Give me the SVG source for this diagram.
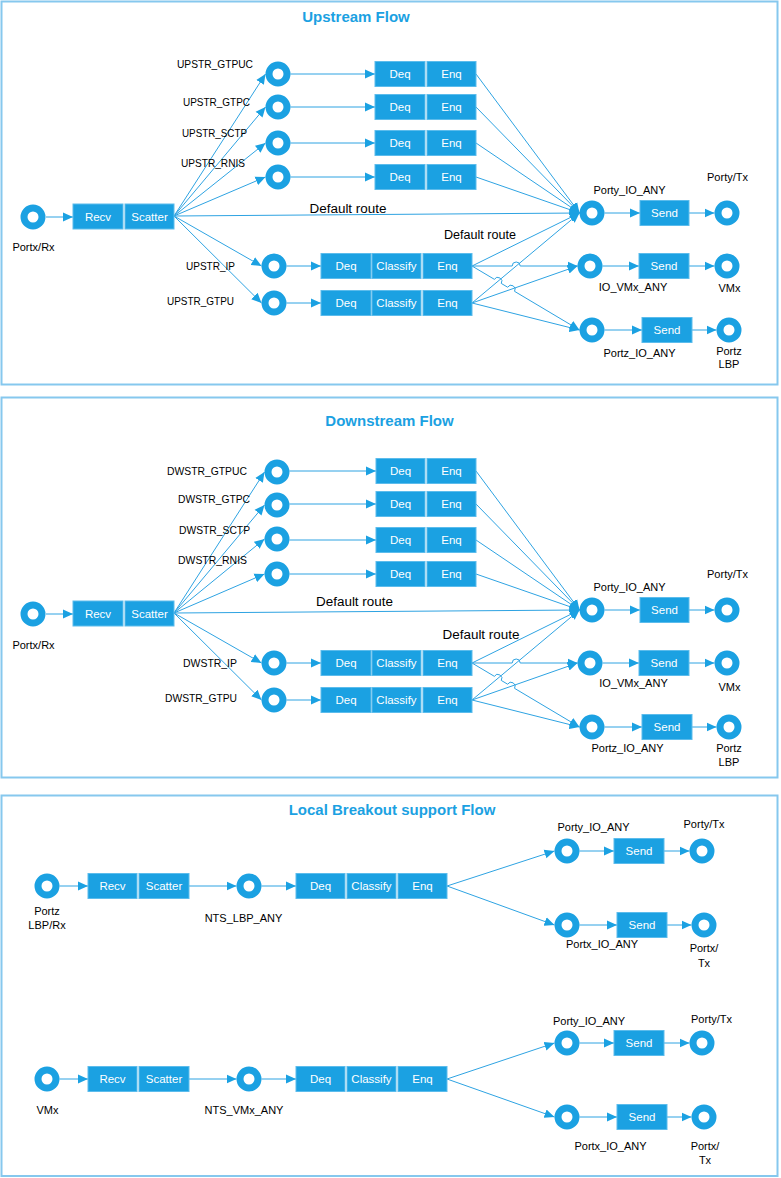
<svg xmlns="http://www.w3.org/2000/svg" width="781" height="1178" viewBox="0 0 781 1178">
<defs>
<style>
.panel{fill:#fff;stroke:#86c8ee;stroke-width:2}
.title{font-family:"Liberation Sans",Arial,sans-serif;font-size:15px;font-weight:bold;fill:#1ba1e2;text-anchor:middle}
.lbl{font-family:"Liberation Sans",Arial,sans-serif;font-size:11px;fill:#000;text-anchor:middle}
.dr{font-family:"Liberation Sans",Arial,sans-serif;font-size:12.5px;fill:#000;text-anchor:middle}
.bt{font-family:"Liberation Sans",Arial,sans-serif;font-size:11.5px;fill:#fff;text-anchor:middle}
.box{fill:#1ba1e2;stroke:#5cbcec;stroke-width:1}
.port{fill:none;stroke:#1ba1e2;stroke-width:7}
.cn{fill:none;stroke:#2ea3e2;stroke-width:1}
.ar{marker-end:url(#ah)}
</style>
<marker id="ah" markerWidth="10" markerHeight="10" refX="10" refY="5" orient="auto" markerUnits="userSpaceOnUse">
<path d="M0,0.5 L10,5 L0,9.5 z" fill="#1ba1e2"/>
</marker>
</defs>
<rect width="781" height="1178" fill="#fff"/>

<!-- Panels -->
<g id="panel-upstream"><rect class="panel" x="1.5" y="1.5" width="776" height="383"/><text class="title" x="356" y="22">Upstream Flow</text></g>
<g id="panel-downstream"><rect class="panel" x="1.5" y="397.5" width="776" height="380"/><text class="title" x="389.5" y="426">Downstream Flow</text></g>
<g id="panel-lbo"><rect class="panel" x="1.5" y="795.5" width="776" height="380.5"/><text class="title" x="392" y="815">Local Breakout support Flow</text></g>

<!-- ================= CONNECTORS ================= -->
<g id="connectors">
<!-- Upstream -->
<path class="cn ar" d="M46,217 L73,217"/>
<path class="cn ar" d="M174,216 L265.5,74"/>
<path class="cn ar" d="M174,216 L265.5,107"/>
<path class="cn ar" d="M174,216 L265.5,143"/>
<path class="cn ar" d="M174,216 L265.5,177"/>
<path class="cn ar" d="M174,216 L261.5,266"/>
<path class="cn ar" d="M174,216 L261.5,303"/>
<path class="cn ar" d="M290.5,74 L375,74"/>
<path class="cn ar" d="M290.5,107 L375,107"/>
<path class="cn ar" d="M290.5,143 L375,143"/>
<path class="cn ar" d="M290.5,177 L375,177"/>
<path class="cn ar" d="M286.5,266 L321,266"/>
<path class="cn ar" d="M286.5,303 L321,303"/>
<path class="cn ar" d="M476,74 L579.5,213"/>
<path class="cn ar" d="M476,107 L579.5,213"/>
<path class="cn ar" d="M476,143 L579.5,213"/>
<path class="cn ar" d="M476,177 L579.5,213"/>
<path class="cn ar" d="M174,216 L579.5,213"/>
<path class="cn ar" d="M472,266 L579.5,213"/>
<path class="cn ar" d="M472,303 L579.5,213"/>
<path class="cn ar" d="M472,303 L577.5,266"/>
<path class="cn ar" d="M472,303 L579.5,330"/>
<path class="cn ar" d="M472,266 L512.19,266 A4,4 0 0 1 520.19,266 L577.5,266"/>
<path class="cn ar" d="M472,266 L494.39,279.33 A4,4 0 0 1 501.27,283.43 L507.67,287.23 A4,4 0 0 1 514.55,291.33 L579.5,330"/>
<path class="cn ar" d="M604.5,213 L640,213"/>
<path class="cn ar" d="M689,213 L714.5,213"/>
<path class="cn ar" d="M602.5,266 L639,266"/>
<path class="cn ar" d="M689,266 L714.5,266"/>
<path class="cn ar" d="M604.5,330 L642,330"/>
<path class="cn ar" d="M692,330 L716.5,330"/>

<!-- Downstream -->
<path class="cn ar" d="M46,614 L73,614"/>
<path class="cn ar" d="M174,613 L264.5,472"/>
<path class="cn ar" d="M174,613 L264.5,505"/>
<path class="cn ar" d="M174,613 L264.5,539"/>
<path class="cn ar" d="M174,613 L264.5,574"/>
<path class="cn ar" d="M174,613 L261.5,663"/>
<path class="cn ar" d="M174,613 L261.5,700"/>
<path class="cn ar" d="M289.5,471 L376,471"/>
<path class="cn ar" d="M289.5,504 L376,504"/>
<path class="cn ar" d="M289.5,540 L376,540"/>
<path class="cn ar" d="M289.5,574 L376,574"/>
<path class="cn ar" d="M286.5,663 L321,663"/>
<path class="cn ar" d="M286.5,700 L321,700"/>
<path class="cn ar" d="M476,471 L579.5,610"/>
<path class="cn ar" d="M476,504 L579.5,610"/>
<path class="cn ar" d="M476,540 L579.5,610"/>
<path class="cn ar" d="M476,574 L579.5,610"/>
<path class="cn ar" d="M174,613 L579.5,610"/>
<path class="cn ar" d="M472,663 L579.5,610"/>
<path class="cn ar" d="M472,700 L579.5,610"/>
<path class="cn ar" d="M472,700 L577.5,663"/>
<path class="cn ar" d="M472,700 L579.5,727"/>
<path class="cn ar" d="M472,663 L512.19,663 A4,4 0 0 1 520.19,663 L577.5,663"/>
<path class="cn ar" d="M472,663 L494.39,676.33 A4,4 0 0 1 501.27,680.43 L507.67,684.23 A4,4 0 0 1 514.55,688.33 L579.5,727"/>
<path class="cn ar" d="M604.5,610 L640,610"/>
<path class="cn ar" d="M689,610 L714.5,610"/>
<path class="cn ar" d="M602.5,663 L639,663"/>
<path class="cn ar" d="M689,663 L714.5,663"/>
<path class="cn ar" d="M604.5,727 L642,727"/>
<path class="cn ar" d="M692,727 L716.5,727"/>

<!-- Local breakout row 1 -->
<path class="cn ar" d="M59.5,886 L88,886"/>
<path class="cn ar" d="M189,886 L236.5,886"/>
<path class="cn ar" d="M261.5,886 L296,886"/>
<path class="cn ar" d="M447,886 L554.5,851"/>
<path class="cn ar" d="M447,886 L554.5,925"/>
<path class="cn ar" d="M579.5,851 L614,851"/>
<path class="cn ar" d="M664,851 L689.5,851"/>
<path class="cn ar" d="M579.5,925 L617,925"/>
<path class="cn ar" d="M667,925 L691.5,925"/>
<!-- Local breakout row 2 -->
<path class="cn ar" d="M59.5,1079 L88,1079"/>
<path class="cn ar" d="M189,1079 L236.5,1079"/>
<path class="cn ar" d="M261.5,1079 L296,1079"/>
<path class="cn ar" d="M447,1079 L554.5,1043"/>
<path class="cn ar" d="M447,1079 L554.5,1117"/>
<path class="cn ar" d="M579.5,1043 L614,1043"/>
<path class="cn ar" d="M664,1043 L689.5,1043"/>
<path class="cn ar" d="M579.5,1117 L617,1117"/>
<path class="cn ar" d="M667,1117 L691.5,1117"/>
</g>

<!-- connector labels -->
<g id="edge-labels">
<text class="dr" x="348" y="213" textLength="77" lengthAdjust="spacingAndGlyphs">Default route</text>
<text class="dr" x="480" y="239" textLength="72" lengthAdjust="spacingAndGlyphs">Default route</text>
<text class="dr" x="354.5" y="606" textLength="77" lengthAdjust="spacingAndGlyphs">Default route</text>
<text class="dr" x="481" y="639" textLength="77" lengthAdjust="spacingAndGlyphs">Default route</text>
</g>

<!-- ================= UPSTREAM NODES ================= -->
<g id="up-portx-rx"><circle class="port" cx="33" cy="217" r="9"/><text class="lbl" x="33.5" y="251">Portx/Rx</text></g>
<g id="up-recv-scatter">
<rect class="box" x="73" y="204" width="50" height="25"/><text class="bt" x="98" y="220.5">Recv</text>
<rect class="box" x="125" y="204" width="49" height="25"/><text class="bt" x="149.5" y="220.5">Scatter</text>
</g>
<g id="up-gtpuc"><circle class="port" cx="278" cy="74" r="9"/><text class="lbl" x="215" y="68" textLength="76" lengthAdjust="spacingAndGlyphs">UPSTR_GTPUC</text></g>
<g id="up-gtpc"><circle class="port" cx="278" cy="107" r="9"/><text class="lbl" x="216.5" y="106" textLength="67" lengthAdjust="spacingAndGlyphs">UPSTR_GTPC</text></g>
<g id="up-sctp"><circle class="port" cx="278" cy="143" r="9"/><text class="lbl" x="214.5" y="137" textLength="65" lengthAdjust="spacingAndGlyphs">UPSTR_SCTP</text></g>
<g id="up-rnis"><circle class="port" cx="278" cy="177" r="9"/><text class="lbl" x="213" y="167" textLength="64" lengthAdjust="spacingAndGlyphs">UPSTR_RNIS</text></g>
<g id="up-ip"><circle class="port" cx="274" cy="266" r="9"/><text class="lbl" x="210.5" y="270" textLength="49" lengthAdjust="spacingAndGlyphs">UPSTR_IP</text></g>
<g id="up-gtpu"><circle class="port" cx="274" cy="303" r="9"/><text class="lbl" x="200.5" y="305" textLength="67" lengthAdjust="spacingAndGlyphs">UPSTR_GTPU</text></g>
<g id="up-de1"><rect class="box" x="375" y="61.5" width="50" height="25"/><text class="bt" x="400" y="78">Deq</text><rect class="box" x="427" y="61.5" width="49" height="25"/><text class="bt" x="451.5" y="78">Enq</text></g>
<g id="up-de2"><rect class="box" x="375" y="94.5" width="50" height="25"/><text class="bt" x="400" y="111">Deq</text><rect class="box" x="427" y="94.5" width="49" height="25"/><text class="bt" x="451.5" y="111">Enq</text></g>
<g id="up-de3"><rect class="box" x="375" y="130.5" width="50" height="25"/><text class="bt" x="400" y="147">Deq</text><rect class="box" x="427" y="130.5" width="49" height="25"/><text class="bt" x="451.5" y="147">Enq</text></g>
<g id="up-de4"><rect class="box" x="375" y="164.5" width="50" height="25"/><text class="bt" x="400" y="181">Deq</text><rect class="box" x="427" y="164.5" width="49" height="25"/><text class="bt" x="451.5" y="181">Enq</text></g>
<g id="up-dce1"><rect class="box" x="321" y="253.5" width="50" height="25"/><text class="bt" x="346" y="270">Deq</text><rect class="box" x="372" y="253.5" width="49" height="25"/><text class="bt" x="396.5" y="270">Classify</text><rect class="box" x="423" y="253.5" width="49" height="25"/><text class="bt" x="447.5" y="270">Enq</text></g>
<g id="up-dce2"><rect class="box" x="321" y="290.5" width="50" height="25"/><text class="bt" x="346" y="307">Deq</text><rect class="box" x="372" y="290.5" width="49" height="25"/><text class="bt" x="396.5" y="307">Classify</text><rect class="box" x="423" y="290.5" width="49" height="25"/><text class="bt" x="447.5" y="307">Enq</text></g>
<g id="up-porty-io"><circle class="port" cx="592" cy="213" r="9"/><text class="lbl" x="629.5" y="194">Porty_IO_ANY</text></g>
<g id="up-send1"><rect class="box" x="640" y="200.5" width="49" height="25"/><text class="bt" x="664.5" y="217">Send</text></g>
<g id="up-porty-tx"><circle class="port" cx="727" cy="213" r="9"/><text class="lbl" x="727.5" y="181">Porty/Tx</text></g>
<g id="up-io-vmx"><circle class="port" cx="590" cy="266" r="9"/><text class="lbl" x="633" y="291">IO_VMx_ANY</text></g>
<g id="up-send2"><rect class="box" x="639" y="253.5" width="50" height="25"/><text class="bt" x="664" y="270">Send</text></g>
<g id="up-vmx"><circle class="port" cx="727" cy="266" r="9"/><text class="lbl" x="729.5" y="292">VMx</text></g>
<g id="up-portz-io"><circle class="port" cx="592" cy="330" r="9"/><text class="lbl" x="639.5" y="357">Portz_IO_ANY</text></g>
<g id="up-send3"><rect class="box" x="642" y="317.5" width="50" height="25"/><text class="bt" x="667" y="334">Send</text></g>
<g id="up-portz-lbp"><circle class="port" cx="729" cy="330" r="9"/><text class="lbl" x="729" y="355">Portz</text><text class="lbl" x="729" y="368">LBP</text></g>

<!-- ================= DOWNSTREAM NODES ================= -->
<g id="dn-portx-rx"><circle class="port" cx="33" cy="614" r="9"/><text class="lbl" x="33.5" y="649">Portx/Rx</text></g>
<g id="dn-recv-scatter">
<rect class="box" x="73" y="601" width="50" height="25"/><text class="bt" x="98" y="617.5">Recv</text>
<rect class="box" x="125" y="601" width="49" height="25"/><text class="bt" x="149.5" y="617.5">Scatter</text>
</g>
<g id="dn-gtpuc"><circle class="port" cx="277" cy="472" r="9"/><text class="lbl" x="207" y="475" textLength="80" lengthAdjust="spacingAndGlyphs">DWSTR_GTPUC</text></g>
<g id="dn-gtpc"><circle class="port" cx="277" cy="505" r="9"/><text class="lbl" x="214" y="503" textLength="72" lengthAdjust="spacingAndGlyphs">DWSTR_GTPC</text></g>
<g id="dn-sctp"><circle class="port" cx="277" cy="539" r="9"/><text class="lbl" x="214.5" y="534" textLength="71" lengthAdjust="spacingAndGlyphs">DWSTR_SCTP</text></g>
<g id="dn-rnis"><circle class="port" cx="277" cy="574" r="9"/><text class="lbl" x="212.5" y="564" textLength="69" lengthAdjust="spacingAndGlyphs">DWSTR_RNIS</text></g>
<g id="dn-ip"><circle class="port" cx="274" cy="663" r="9"/><text class="lbl" x="210" y="667" textLength="54" lengthAdjust="spacingAndGlyphs">DWSTR_IP</text></g>
<g id="dn-gtpu"><circle class="port" cx="274" cy="700" r="9"/><text class="lbl" x="201" y="702" textLength="72" lengthAdjust="spacingAndGlyphs">DWSTR_GTPU</text></g>
<g id="dn-de1"><rect class="box" x="376" y="458.5" width="49" height="25"/><text class="bt" x="400.5" y="475">Deq</text><rect class="box" x="427" y="458.5" width="49" height="25"/><text class="bt" x="451.5" y="475">Enq</text></g>
<g id="dn-de2"><rect class="box" x="376" y="491.5" width="49" height="25"/><text class="bt" x="400.5" y="508">Deq</text><rect class="box" x="427" y="491.5" width="49" height="25"/><text class="bt" x="451.5" y="508">Enq</text></g>
<g id="dn-de3"><rect class="box" x="376" y="527.5" width="49" height="25"/><text class="bt" x="400.5" y="544">Deq</text><rect class="box" x="427" y="527.5" width="49" height="25"/><text class="bt" x="451.5" y="544">Enq</text></g>
<g id="dn-de4"><rect class="box" x="376" y="561.5" width="49" height="25"/><text class="bt" x="400.5" y="578">Deq</text><rect class="box" x="427" y="561.5" width="49" height="25"/><text class="bt" x="451.5" y="578">Enq</text></g>
<g id="dn-dce1"><rect class="box" x="321" y="650.5" width="50" height="25"/><text class="bt" x="346" y="667">Deq</text><rect class="box" x="372" y="650.5" width="49" height="25"/><text class="bt" x="396.5" y="667">Classify</text><rect class="box" x="423" y="650.5" width="49" height="25"/><text class="bt" x="447.5" y="667">Enq</text></g>
<g id="dn-dce2"><rect class="box" x="321" y="687.5" width="50" height="25"/><text class="bt" x="346" y="704">Deq</text><rect class="box" x="372" y="687.5" width="49" height="25"/><text class="bt" x="396.5" y="704">Classify</text><rect class="box" x="423" y="687.5" width="49" height="25"/><text class="bt" x="447.5" y="704">Enq</text></g>
<g id="dn-porty-io"><circle class="port" cx="592" cy="610" r="9"/><text class="lbl" x="629.5" y="591">Porty_IO_ANY</text></g>
<g id="dn-send1"><rect class="box" x="640" y="597.5" width="49" height="25"/><text class="bt" x="664.5" y="614">Send</text></g>
<g id="dn-porty-tx"><circle class="port" cx="727" cy="610" r="9"/><text class="lbl" x="727.5" y="578">Porty/Tx</text></g>
<g id="dn-io-vmx"><circle class="port" cx="590" cy="663" r="9"/><text class="lbl" x="633.5" y="687">IO_VMx_ANY</text></g>
<g id="dn-send2"><rect class="box" x="639" y="650.5" width="50" height="25"/><text class="bt" x="664" y="667">Send</text></g>
<g id="dn-vmx"><circle class="port" cx="727" cy="663" r="9"/><text class="lbl" x="729.5" y="691">VMx</text></g>
<g id="dn-portz-io"><circle class="port" cx="592" cy="727" r="9"/><text class="lbl" x="627.5" y="752">Portz_IO_ANY</text></g>
<g id="dn-send3"><rect class="box" x="642" y="714.5" width="50" height="25"/><text class="bt" x="667" y="731">Send</text></g>
<g id="dn-portz-lbp"><circle class="port" cx="729" cy="727" r="9"/><text class="lbl" x="729" y="752">Portz</text><text class="lbl" x="729" y="766">LBP</text></g>

<!-- ================= LOCAL BREAKOUT NODES ================= -->
<g id="lb1-portz-rx"><circle class="port" cx="47" cy="886" r="9"/><text class="lbl" x="47" y="915">Portz</text><text class="lbl" x="47" y="929">LBP/Rx</text></g>
<g id="lb1-recv-scatter"><rect class="box" x="88" y="873.5" width="49" height="25"/><text class="bt" x="112.5" y="890">Recv</text><rect class="box" x="139" y="873.5" width="50" height="25"/><text class="bt" x="164" y="890">Scatter</text></g>
<g id="lb1-nts-lbp"><circle class="port" cx="249" cy="886" r="9"/><text class="lbl" x="243.5" y="922">NTS_LBP_ANY</text></g>
<g id="lb1-dce"><rect class="box" x="296" y="873.5" width="49" height="25"/><text class="bt" x="320.5" y="890">Deq</text><rect class="box" x="347" y="873.5" width="49" height="25"/><text class="bt" x="371.5" y="890">Classify</text><rect class="box" x="398" y="873.5" width="49" height="25"/><text class="bt" x="422.5" y="890">Enq</text></g>
<g id="lb1-porty-io"><circle class="port" cx="567" cy="851" r="9"/><text class="lbl" x="593.5" y="831">Porty_IO_ANY</text></g>
<g id="lb1-send1"><rect class="box" x="614" y="838.5" width="50" height="25"/><text class="bt" x="639" y="855">Send</text></g>
<g id="lb1-porty-tx"><circle class="port" cx="702" cy="851" r="9"/><text class="lbl" x="704" y="828">Porty/Tx</text></g>
<g id="lb1-portx-io"><circle class="port" cx="567" cy="925" r="9"/><text class="lbl" x="602" y="948">Portx_IO_ANY</text></g>
<g id="lb1-send2"><rect class="box" x="617" y="912.5" width="50" height="25"/><text class="bt" x="642" y="929">Send</text></g>
<g id="lb1-portx-tx"><circle class="port" cx="704" cy="925" r="9"/><text class="lbl" x="704" y="952">Portx/</text><text class="lbl" x="704" y="967">Tx</text></g>

<g id="lb2-vmx"><circle class="port" cx="47" cy="1079" r="9"/><text class="lbl" x="47.5" y="1114">VMx</text></g>
<g id="lb2-recv-scatter"><rect class="box" x="88" y="1066.5" width="49" height="25"/><text class="bt" x="112.5" y="1083">Recv</text><rect class="box" x="139" y="1066.5" width="50" height="25"/><text class="bt" x="164" y="1083">Scatter</text></g>
<g id="lb2-nts-vmx"><circle class="port" cx="249" cy="1079" r="9"/><text class="lbl" x="244" y="1114">NTS_VMx_ANY</text></g>
<g id="lb2-dce"><rect class="box" x="296" y="1066.5" width="49" height="25"/><text class="bt" x="320.5" y="1083">Deq</text><rect class="box" x="347" y="1066.5" width="49" height="25"/><text class="bt" x="371.5" y="1083">Classify</text><rect class="box" x="398" y="1066.5" width="49" height="25"/><text class="bt" x="422.5" y="1083">Enq</text></g>
<g id="lb2-porty-io"><circle class="port" cx="567" cy="1043" r="9"/><text class="lbl" x="589" y="1025">Porty_IO_ANY</text></g>
<g id="lb2-send1"><rect class="box" x="614" y="1030.5" width="50" height="25"/><text class="bt" x="639" y="1047">Send</text></g>
<g id="lb2-porty-tx"><circle class="port" cx="702" cy="1043" r="9"/><text class="lbl" x="711.5" y="1023">Porty/Tx</text></g>
<g id="lb2-portx-io"><circle class="port" cx="567" cy="1117" r="9"/><text class="lbl" x="610.5" y="1150">Portx_IO_ANY</text></g>
<g id="lb2-send2"><rect class="box" x="617" y="1104.5" width="50" height="25"/><text class="bt" x="642" y="1121">Send</text></g>
<g id="lb2-portx-tx"><circle class="port" cx="704" cy="1117" r="9"/><text class="lbl" x="705" y="1150">Portx/</text><text class="lbl" x="705" y="1164">Tx</text></g>
</svg>
